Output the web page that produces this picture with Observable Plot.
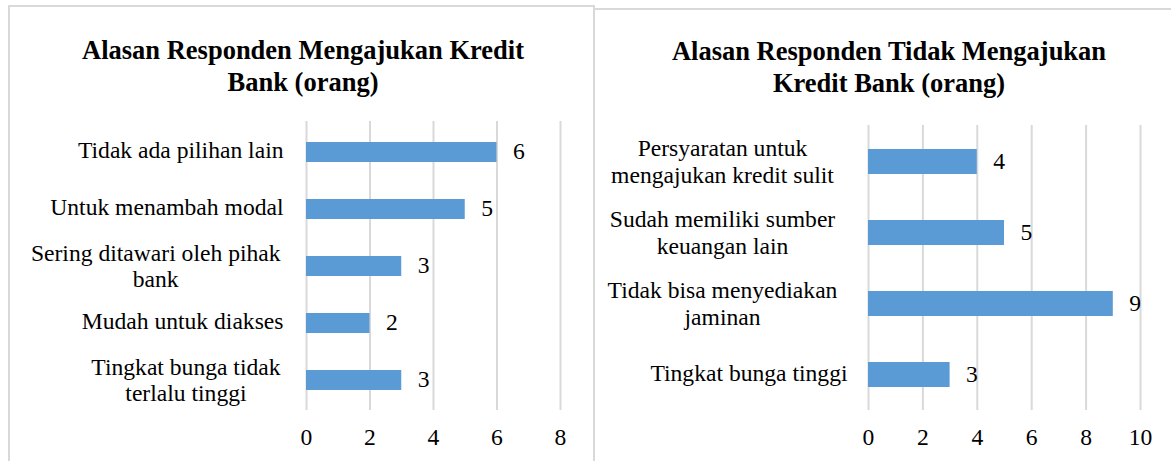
<!DOCTYPE html>
<html><head><meta charset="utf-8">
<script src="https://cdn.jsdelivr.net/npm/d3@7"></script>
<script src="https://cdn.jsdelivr.net/npm/@observablehq/plot@0.6"></script>
<style>
html,body{margin:0;padding:0;background:#fff;width:1171px;height:461px;overflow:hidden;font-family:"Liberation Serif","Times New Roman",serif;}
.panel{position:absolute;border:2px solid #d9d9d9;box-sizing:border-box;background:#fff;}
.title{position:absolute;width:560px;text-align:center;font-weight:bold;font-size:26.5px;line-height:32px;color:#000;z-index:2;}
.chart{position:absolute;top:0;z-index:1;}
</style></head><body>
<div class="panel" style="left:8px;top:5px;width:587px;height:520px"></div>
<div class="panel" style="left:593px;top:8px;width:600px;height:520px"></div>
<div class="title" id="t1" style="left:23px;top:34px"></div>
<div class="title" id="t2" style="left:609px;top:35px"></div>
<div class="chart" id="c1" style="left:0px"></div>
<div class="chart" id="c2" style="left:594px"></div>
<script>
// ---- data ----
const leftTitle = ["Alasan Responden Mengajukan Kredit", "Bank (orang)"];
const leftCategories = ["Tidak ada pilihan lain", "Untuk menambah modal", "Sering ditawari oleh pihak\nbank", "Mudah untuk diakses", "Tingkat bunga tidak\nterlalu tinggi"];
const leftValues = [6, 5, 3, 2, 3];
const leftTicks = [0, 2, 4, 6, 8];

const rightTitle = ["Alasan Responden Tidak Mengajukan", "Kredit Bank (orang)"];
const rightCategories = ["Persyaratan untuk\nmengajukan kredit sulit", "Sudah memiliki sumber\nkeuangan lain", "Tidak bisa menyediakan\njaminan", "Tingkat bunga tinggi"];
const rightValues = [4, 5, 9, 3];
const rightTicks = [0, 2, 4, 6, 8, 10];

const FS = 23.6;
const FF = "Liberation Serif";

function barChart({cats, vals, ticks, width, marginLeft, marginRight, marginTop, marginBottom, gap, wrapBox}) {
  const data = cats.map((c, i) => ({cat: c, value: vals[i]}));
  const ctx = document.createElement("canvas").getContext("2d");
  ctx.font = `${FS}px "${FF}"`;
  const labelMarks = data.map(d => {
    const lines = d.cat.split("\n");
    if (lines.length === 1) {
      return Plot.text([d], {y: "cat", frameAnchor: "left", text: "cat", textAnchor: "end", dx: -gap, dy: -2, fontSize: FS, fontFamily: FF, fill: "#000"});
    }
    const w = Math.max(...lines.map(l => ctx.measureText(l + " ").width));
    const half = wrapBox ? wrapBox / 2 : w / 2;
    return Plot.text([d], {y: "cat", frameAnchor: "left", text: "cat", textAnchor: "middle", dx: -(gap + half), dy: -1, lineHeight: 1.13, fontSize: FS, fontFamily: FF, fill: "#000"});
  });
  const svg = Plot.plot({
    width, height: 461, marginLeft, marginRight, marginTop, marginBottom,
    style: {background: "transparent", overflow: "visible", color: "#000"},
    x: {domain: [0, ticks[ticks.length - 1]]},
    y: {domain: cats, paddingInner: 0.65, paddingOuter: 0.325, axis: null},
    marks: [
      Plot.gridX(ticks, {stroke: "#d9d9d9", strokeOpacity: 1, strokeWidth: 2}),
      Plot.axisX(ticks, {anchor: "bottom", label: null, tickSize: 0, tickPadding: 18, fontSize: FS, fontFamily: FF, tickFormat: d => String(d)}),
      Plot.barX(data, {x: "value", y: "cat", fill: "#5b9bd5"}),
      Plot.text(data, {x: "value", y: "cat", text: d => String(d.value), textAnchor: "start", dx: 16, dy: -1, fontSize: FS, fontFamily: FF, fill: "#000"}),
      ...labelMarks
    ]
  });
  svg.setAttribute("font-family", FF);
  svg.querySelectorAll("text").forEach(t => t.style.fontFamily = '"Liberation Serif", serif');
  return svg;
}

document.getElementById("t1").innerHTML = leftTitle.join("<br>");
document.getElementById("t2").innerHTML = rightTitle.join("<br>");

document.getElementById("c1").append(barChart({
  cats: leftCategories, vals: leftValues, ticks: leftTicks,
  width: 594, marginLeft: 306, marginRight: 34, marginTop: 121, marginBottom: 51, gap: 23, wrapBox: null
}));
document.getElementById("c2").append(barChart({
  cats: rightCategories, vals: rightValues, ticks: rightTicks,
  width: 577, marginLeft: 274, marginRight: 31, marginTop: 125, marginBottom: 51, gap: 21, wrapBox: 250
}));
</script>
</body></html>
